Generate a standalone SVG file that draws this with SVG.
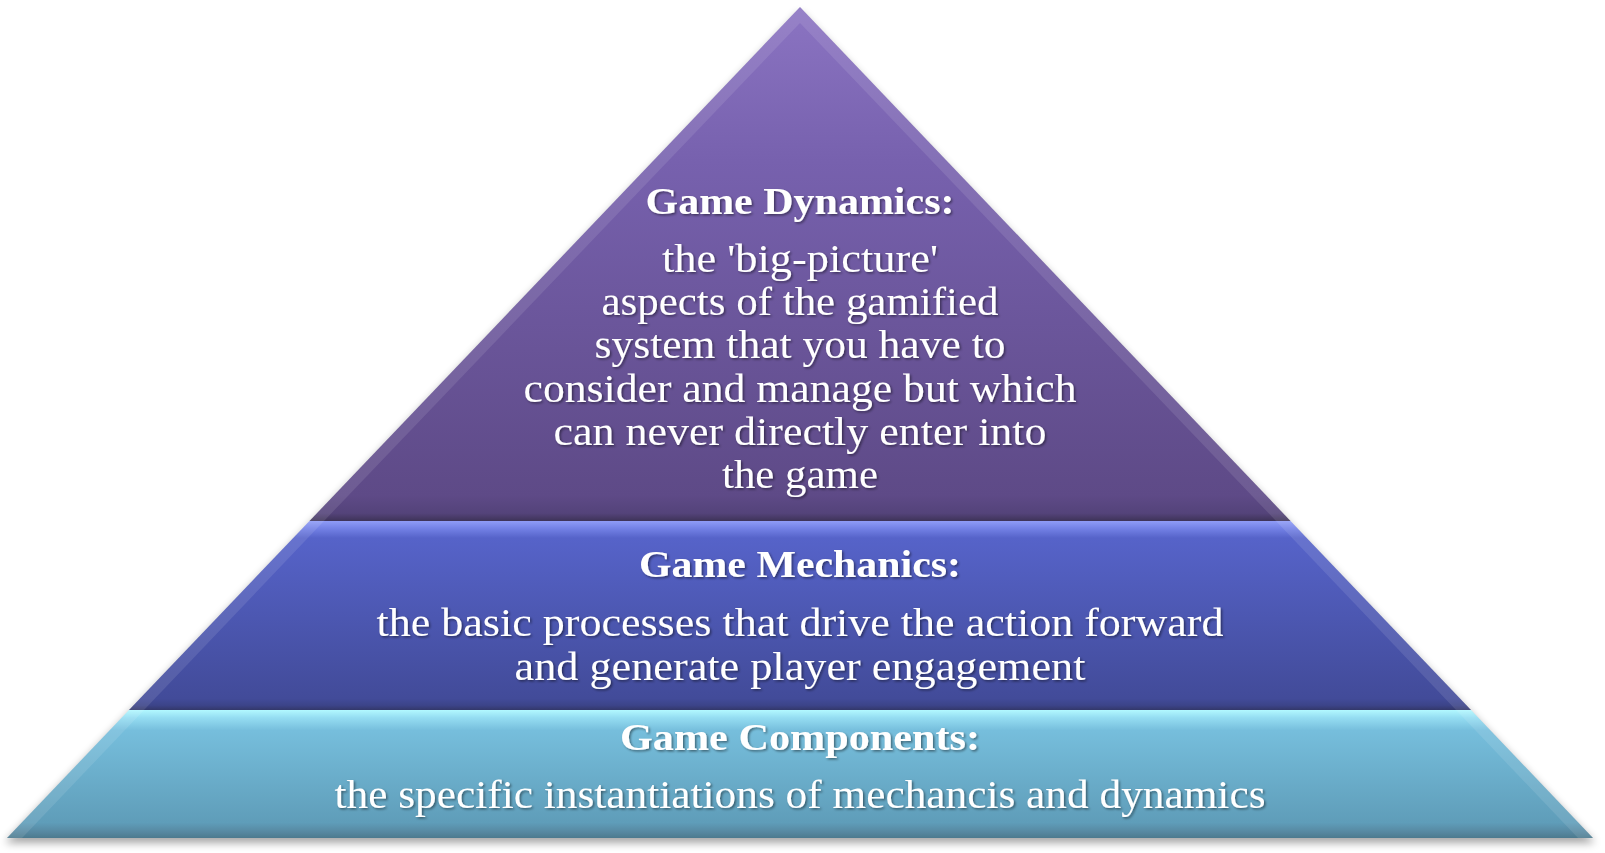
<svg xmlns="http://www.w3.org/2000/svg" width="1605" height="853" viewBox="0 0 1605 853">
<style>
  .t { font-family: "Liberation Serif", "Times New Roman", serif; fill: #ffffff; text-anchor: middle; filter: url(#ts); }
  .h { font-weight: bold; font-size: 38px; }
  .b { font-size: 40px; }
  .m { font-size: 39px; }
  .bevel { fill: #ffffff; opacity: 0.1; }
</style>
<defs>
  <linearGradient id="gTop" x1="0" y1="7" x2="0" y2="521" gradientUnits="userSpaceOnUse">
    <stop offset="0" stop-color="#8B74C2"/>
    <stop offset="0.3" stop-color="#7761AE"/>
    <stop offset="0.95" stop-color="#5E4A87"/>
    <stop offset="0.985" stop-color="#54437A"/>
    <stop offset="1" stop-color="#3E3358"/>
  </linearGradient>
  <linearGradient id="gMid" x1="0" y1="521" x2="0" y2="710" gradientUnits="userSpaceOnUse">
    <stop offset="0" stop-color="#8F9CF7"/>
    <stop offset="0.035" stop-color="#7684E8"/>
    <stop offset="0.09" stop-color="#5663C9"/>
    <stop offset="0.94" stop-color="#424B99"/>
    <stop offset="0.975" stop-color="#3C4489"/>
    <stop offset="1" stop-color="#33386A"/>
  </linearGradient>
  <linearGradient id="gBot" x1="0" y1="710" x2="0" y2="838" gradientUnits="userSpaceOnUse">
    <stop offset="0" stop-color="#B2F8FF"/>
    <stop offset="0.06" stop-color="#95DDF2"/>
    <stop offset="0.16" stop-color="#76BEDC"/>
    <stop offset="0.88" stop-color="#5F9DB9"/>
    <stop offset="0.95" stop-color="#5789A2"/>
    <stop offset="1" stop-color="#4C7A8E"/>
  </linearGradient>
  <filter id="shadow" x="-5%" y="-5%" width="110%" height="115%">
    <feGaussianBlur stdDeviation="4"/>
  </filter>
  <filter id="ts" x="-5%" y="-20%" width="110%" height="140%">
    <feDropShadow dx="1.5" dy="1.5" stdDeviation="1" flood-color="#000000" flood-opacity="0.45"/>
  </filter>
</defs>
<rect width="1605" height="853" fill="#ffffff"/>
<polygon points="800,12 1595,843 5,843" fill="#000000" opacity="0.35" filter="url(#shadow)"/>

<g id="game-dynamics">
  <polygon points="800,7 1290.5,521 309.5,521" fill="url(#gTop)"/>
  <polygon class="bevel" points="800,7 309.5,521 324,521 800,23"/>
  <polygon class="bevel" points="800,7 1290.5,521 1276,521 800,23"/>
  <text class="t h" x="800" y="214" textLength="309" lengthAdjust="spacingAndGlyphs">Game Dynamics:</text>
  <text class="t b" x="800" y="272" textLength="276" lengthAdjust="spacingAndGlyphs">the 'big-picture'</text>
  <text class="t b" x="800" y="315" textLength="397" lengthAdjust="spacingAndGlyphs">aspects of the gamified</text>
  <text class="t b" x="800" y="358" textLength="411" lengthAdjust="spacingAndGlyphs">system that you have to</text>
  <text class="t b" x="800" y="402" textLength="553" lengthAdjust="spacingAndGlyphs">consider and manage but which</text>
  <text class="t b" x="800" y="445" textLength="493" lengthAdjust="spacingAndGlyphs">can never directly enter into</text>
  <text class="t b" x="800" y="488" textLength="156" lengthAdjust="spacingAndGlyphs">the game</text>
</g>

<g id="game-mechanics">
  <polygon points="309.5,521 1290.5,521 1471,710 129,710" fill="url(#gMid)"/>
  <polygon class="bevel" points="309.5,521 129,710 144,710 324,521"/>
  <polygon class="bevel" points="1290.5,521 1471,710 1456,710 1276,521"/>
  <text class="t h" x="800" y="577" textLength="322" lengthAdjust="spacingAndGlyphs">Game Mechanics:</text>
  <text class="t m" x="800" y="636" textLength="847" lengthAdjust="spacingAndGlyphs">the basic processes that drive the action forward</text>
  <text class="t m" x="800" y="680" textLength="571" lengthAdjust="spacingAndGlyphs">and generate player engagement</text>
</g>

<g id="game-components">
  <polygon points="129,710 1471,710 1593,838 7,838" fill="url(#gBot)"/>
  <polygon class="bevel" points="129,710 7,838 22,838 144,710"/>
  <polygon class="bevel" points="1471,710 1593,838 1578,838 1456,710"/>
  <text class="t h" x="800" y="750" textLength="360" lengthAdjust="spacingAndGlyphs">Game Components:</text>
  <text class="t m" x="800" y="808" textLength="931" lengthAdjust="spacingAndGlyphs">the specific instantiations of mechancis and dynamics</text>
</g>
</svg>
